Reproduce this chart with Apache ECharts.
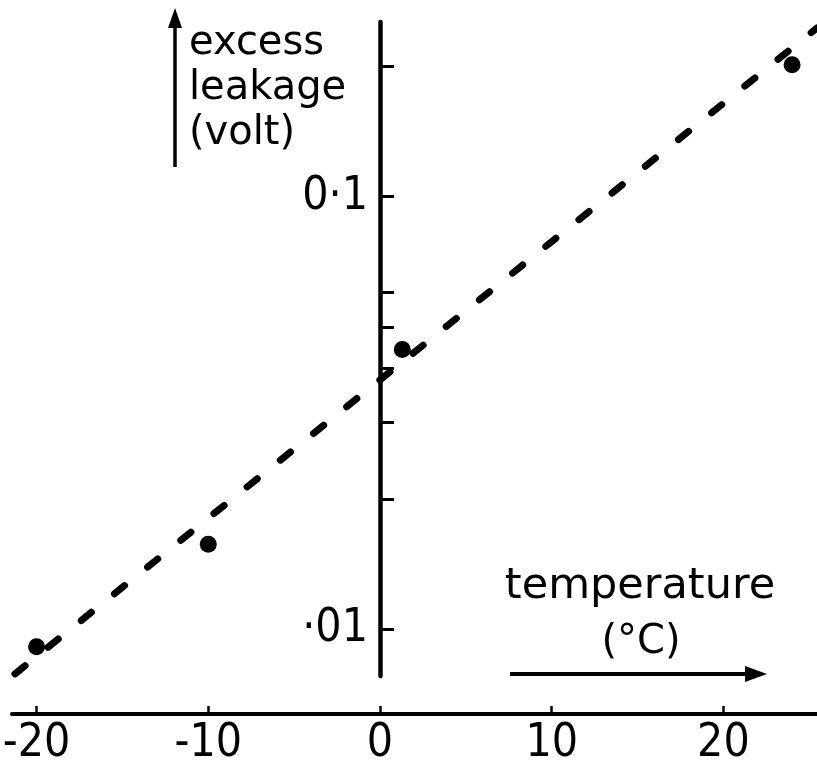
<!DOCTYPE html>
<html>
<head>
<meta charset="utf-8">
<script src="https://cdn.jsdelivr.net/npm/echarts@6/dist/echarts.min.js"></script>
<style>
html,body{margin:0;padding:0;background:#fff;}
#chart{width:817px;height:761px;}
</style>
</head>
<body>
<div id="chart"></div>
<script>
// Measured points: temperature (°C) vs excess leakage (volt)
const tempC = [-20, -10, 1.3, 24];
const leakageV = [0.0091, 0.0157, 0.0443, 0.202];
// Dashed trend line end points
const fitTemp = [-21.26, 25.45];
const fitLeakage = [0.00787, 0.2456];
// Tick values and labels
const xTickValues = [-20, -10, 0, 10, 20];
const yTickValues = [0.01, 0.02, 0.03, 0.04, 0.05, 0.06, 0.1, 0.2];
const yLabelValues = [0.01, 0.1];
const yLabelText = {"0.01": "·01", "0.1": "0·1"};

const numFont = "'Liberation Sans Narrow', 'DejaVu Sans Condensed', 'DejaVu Sans', sans-serif";
const txtFont = "'DejaVu Sans', sans-serif";

const X_MIN = -21.43, X_MAX = 25.45, GRID_LEFT = 12, GRID_W = 805;
// y axis sits at temperature 0: shift it from the grid's left edge
const yAxisShift = -GRID_W * (0 - X_MIN) / (X_MAX - X_MIN);

const chart = echarts.init(document.getElementById('chart'), null, {renderer: 'canvas'});
chart.setOption({
  backgroundColor: '#ffffff',
  animation: false,
  grid: {left: GRID_LEFT, width: GRID_W, top: 22, bottom: 85, containLabel: false, outerBoundsMode: 'none'},
  xAxis: {
    type: 'value',
    min: X_MIN,
    max: X_MAX,
    offset: 38,
    splitLine: {show: false},
    axisLine: {show: true, onZero: false, lineStyle: {color: '#000', width: 4}},
    axisTick: {show: true, inside: true, length: 8, customValues: xTickValues, lineStyle: {color: '#000', width: 2.5}},
    axisLabel: {
      customValues: xTickValues,
      color: '#000',
      fontSize: 46,
      fontFamily: numFont,
      margin: 7,
      formatter: v => String(v)
    }
  },
  yAxis: {
    type: 'log',
    logBase: 10,
    min: 0.007783,
    max: 0.2535,
    position: 'left',
    offset: yAxisShift,
    splitLine: {show: false},
    minorTick: {show: false},
    axisLine: {show: true, onZero: false, lineStyle: {color: '#000', width: 4.5}},
    axisTick: {show: true, inside: true, length: 14, customValues: yTickValues, lineStyle: {color: '#000', width: 3}},
    axisLabel: {
      customValues: yLabelValues,
      color: '#000',
      fontSize: 46,
      fontFamily: numFont,
      margin: 12,
      formatter: v => yLabelText[String(+v.toPrecision(3))] || ''
    }
  },
  series: [
    {
      type: 'line',
      data: fitTemp.map((t, i) => [t, fitLeakage[i]]),
      showSymbol: false,
      symbol: 'none',
      clip: false,
      lineStyle: {color: '#000', width: 7, type: [13, 29.6], cap: 'round'},
      z: 2
    },
    {
      type: 'scatter',
      data: tempC.map((t, i) => [t, leakageV[i]]),
      symbol: 'circle',
      symbolSize: 17,
      itemStyle: {color: '#000', opacity: 1},
      clip: false,
      z: 3
    }
  ],
  graphic: [
    {type: 'line', shape: {x1: 175, y1: 167, x2: 175, y2: 24}, style: {stroke: '#000', lineWidth: 3.5}},
    {type: 'polygon', shape: {points: [[175, 8], [168, 28], [182, 28]]}, style: {fill: '#000'}},
    {type: 'text', x: 189, y: 21, style: {text: 'excess\nleakage\n(volt)', font: '40px ' + txtFont, fill: '#000', lineHeight: 45, textVerticalAlign: 'top'}},
    {type: 'text', x: 640, y: 608, style: {text: 'temperature', font: '43px ' + txtFont, fill: '#000', textAlign: 'center', textVerticalAlign: 'bottom'}},
    {type: 'text', x: 641, y: 663, style: {text: '(°C)', font: '40px ' + txtFont, fill: '#000', textAlign: 'center', textVerticalAlign: 'bottom'}},
    {type: 'line', shape: {x1: 510, y1: 674, x2: 752, y2: 674}, style: {stroke: '#000', lineWidth: 4}},
    {type: 'polygon', shape: {points: [[767, 674], [745, 666], [745, 682]]}, style: {fill: '#000'}}
  ]
});
</script>
</body>
</html>
